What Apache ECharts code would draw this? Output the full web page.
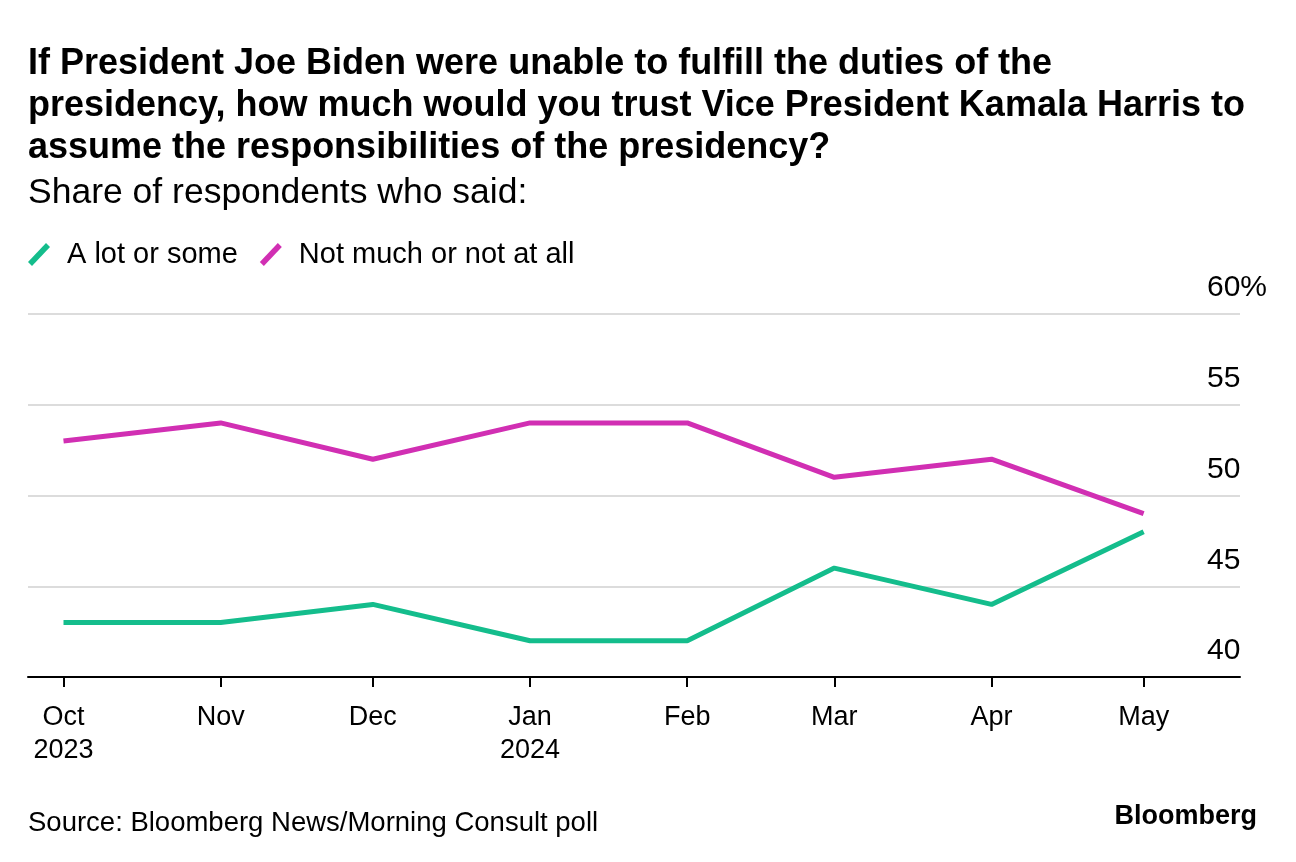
<!DOCTYPE html>
<html>
<head>
<meta charset="utf-8">
<script src="https://cdn.jsdelivr.net/npm/echarts@6/dist/echarts.min.js"></script>
<style>
html,body{margin:0;padding:0;background:#fff;}
#main{width:1296px;height:862px;}
</style>
</head>
<body>
<div id="main"></div>
<script>
// ---- data ----
var months = ['2023-10-01','2023-11-01','2023-12-01','2024-01-01','2024-02-01','2024-03-01','2024-04-01','2024-05-01'];
var aLotOrSome = [43, 43, 44, 42, 42, 46, 44, 48];
var notMuch = [53, 54, 52, 54, 54, 51, 52, 49];
var seriesNames = ['A lot or some', 'Not much or not at all'];
var monthLabels = ['Jan','Feb','Mar','Apr','May','Jun','Jul','Aug','Sep','Oct','Nov','Dec'];
var yTicks = [40, 45, 50, 55, 60];

var FONT = '"Liberation Sans", Arial, sans-serif';
var chart = echarts.init(document.getElementById('main'), null, {renderer: 'canvas'});

function pairs(vals) {
  return months.map(function (m, i) { return [m, vals[i]]; });
}

var slash = 'path://M0,19 L18,0 L22,4 L4,23 Z';

chart.setOption({
  animation: false,
  backgroundColor: '#ffffff',
  title: [
    {
      text: 'If President Joe Biden were unable to fulfill the duties of the\npresidency, how much would you trust Vice President Kamala Harris to\nassume the responsibilities of the presidency?',
      left: 28, top: 43, padding: 0,
      textStyle: {fontFamily: FONT, fontWeight: 'bold', fontSize: 36, lineHeight: 42, color: '#000'}
    },
    {
      text: 'Share of respondents who said:',
      left: 28, top: 173, padding: 0,
      textStyle: {fontFamily: FONT, fontWeight: 'normal', fontSize: 35.5, lineHeight: 40, color: '#000'}
    },
    {
      text: 'Source: Bloomberg News/Morning Consult poll',
      left: 28, top: 808, padding: 0,
      textStyle: {fontFamily: FONT, fontWeight: 'normal', fontSize: 27.5, lineHeight: 30, color: '#000'}
    },
    {
      text: 'Bloomberg',
      right: 39, top: 802, padding: 0,
      textStyle: {fontFamily: FONT, fontWeight: 'bold', fontSize: 27, lineHeight: 30, color: '#000'}
    }
  ],
  legend: {
    left: 28, top: 240, padding: 0,
    itemWidth: 22, itemHeight: 23, itemGap: 22,
    data: [
      {name: seriesNames[0], icon: slash},
      {name: seriesNames[1], icon: slash}
    ],
    textStyle: {fontFamily: FONT, fontSize: 29, color: '#000', padding: [0, 0, 0, 12]}
  },
  grid: {left: 28, right: 56, top: 314, bottom: 185, containLabel: false},
  xAxis: {
    type: 'time',
    min: '2023-09-24',
    max: '2024-05-20',
    minInterval: 28 * 24 * 3600 * 1000,
    maxInterval: 31 * 24 * 3600 * 1000,
    axisLine: {show: true, lineStyle: {color: '#000', width: 2}},
    axisTick: {show: true, length: 10, lineStyle: {color: '#000', width: 2}},
    splitLine: {show: false},
    axisLabel: {
      fontFamily: FONT, fontSize: 27, lineHeight: 33, color: '#000', margin: 24,
      hideOverlap: false,
      formatter: function (value) {
        var d = new Date(value);
        var m = d.getMonth();
        var s = monthLabels[m];
        if (m === 9 || m === 0) s += '\n' + d.getFullYear();
        return s;
      }
    }
  },
  yAxis: {
    type: 'value',
    position: 'right',
    min: yTicks[0], max: yTicks[yTicks.length - 1], interval: 5,
    axisLine: {show: false},
    axisTick: {show: false},
    splitLine: {show: true, lineStyle: {color: '#dcdcdc', width: 2}},
    axisLabel: {
      inside: true, align: 'left', margin: 33, verticalAlign: 'bottom',
      padding: [0, 0, 11, 0],
      fontFamily: FONT, fontSize: 30, color: '#000',
      formatter: function (v) { return v === 60 ? v + '%' : String(v); }
    }
  },
  series: [
    {
      name: seriesNames[0], type: 'line', data: pairs(aLotOrSome),
      symbol: 'none', color: '#14bd8c',
      lineStyle: {width: 5, color: '#14bd8c'}
    },
    {
      name: seriesNames[1], type: 'line', data: pairs(notMuch),
      symbol: 'none', color: '#d12fb3',
      lineStyle: {width: 5, color: '#d12fb3'}
    }
  ]
});
</script>
</body>
</html>
